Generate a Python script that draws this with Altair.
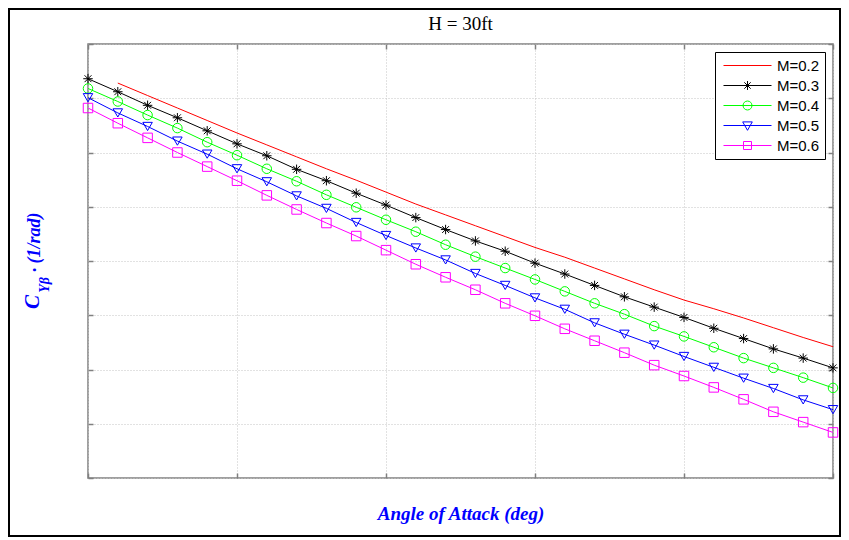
import altair as alt
import pandas as pd

# ---------------- data ----------------
series = ["M=0.2", "M=0.3", "M=0.4", "M=0.5", "M=0.6"]
colors = ["#ff0000", "#000000", "#00ff00", "#0000ff", "#ff00ff"]

angle = [0.0, 0.4, 0.8, 1.2, 1.6, 2.0, 2.4, 2.8, 3.2, 3.6, 4.0, 4.4, 4.8,
         5.2, 5.6, 6.0, 6.4, 6.8, 7.2, 7.6, 8.0, 8.4, 8.8, 9.2, 9.6, 10.0]

# M=0.2 starts at the second angle
cy_m02 = [7.28, 7.05, 6.82, 6.59, 6.36, 6.14, 5.92, 5.70, 5.49, 5.27, 5.05,
          4.85, 4.65, 4.45, 4.25, 4.07, 3.87, 3.67, 3.47, 3.28, 3.12, 2.95,
          2.77, 2.59, 2.42]
cy_m03 = [7.36, 7.12, 6.87, 6.64, 6.40, 6.16, 5.94, 5.69, 5.48, 5.25, 5.03,
          4.80, 4.58, 4.37, 4.18, 3.96, 3.76, 3.55, 3.34, 3.15, 2.96, 2.76,
          2.57, 2.38, 2.21, 2.03]
cy_m04 = [7.18, 6.94, 6.69, 6.45, 6.19, 5.95, 5.70, 5.47, 5.22, 4.99, 4.76,
          4.54, 4.30, 4.08, 3.87, 3.66, 3.44, 3.22, 3.02, 2.80, 2.61, 2.41,
          2.21, 2.03, 1.85, 1.66]
cy_m05 = [7.01, 6.73, 6.48, 6.21, 5.97, 5.70, 5.46, 5.20, 4.97, 4.71, 4.47,
          4.24, 4.02, 3.77, 3.55, 3.32, 3.11, 2.86, 2.65, 2.45, 2.24, 2.04,
          1.84, 1.65, 1.44, 1.26]
cy_m06 = [6.82, 6.54, 6.27, 6.00, 5.74, 5.48, 5.21, 4.95, 4.70, 4.46, 4.20,
          3.94, 3.70, 3.47, 3.22, 2.99, 2.75, 2.53, 2.31, 2.08, 1.88, 1.67,
          1.45, 1.22, 1.03, 0.84]

x_ticks = [0, 2, 4, 6, 8, 10]
y_ticks = [0, 1, 2, 3, 4, 5, 6, 7, 8]

rows = []
for a, v in zip(angle[1:], cy_m02):
    rows.append({"angle": a, "cy": v, "M": "M=0.2"})
for name, vals in zip(series[1:], [cy_m03, cy_m04, cy_m05, cy_m06]):
    for a, v in zip(angle, vals):
        rows.append({"angle": a, "cy": v, "M": name})
df = pd.DataFrame(rows)

# ---------------- shapes ----------------
ASTER = "M-1,0L1,0M0,-1L0,1M-0.72,-0.72L0.72,0.72M-0.72,0.72L0.72,-0.72"
LINE = "M-3,0L3,0"
L_AST = LINE + "M-0.56,0L0.56,0M0,-0.56L0,0.56M-0.4,-0.4L0.4,0.4M-0.4,0.4L0.4,-0.4"
L_CIR = LINE + "M0.56,0A0.56,0.56,0,1,1,-0.56,0A0.56,0.56,0,1,1,0.56,0Z"
L_TRI = LINE + "M-0.6,-0.45L0.6,-0.45L0,0.6Z"
L_SQU = LINE + "M-0.5,-0.5L0.5,-0.5L0.5,0.5L-0.5,0.5Z"
sym_expr = (
    f"datum.value == 'M=0.3' ? '{L_AST}' : datum.value == 'M=0.4' ? '{L_CIR}' : "
    f"datum.value == 'M=0.5' ? '{L_TRI}' : datum.value == 'M=0.6' ? '{L_SQU}' : '{LINE}'"
)

W, H = 745, 434
xs = alt.Scale(domain=[0, 10], nice=False, zero=False)
ys = alt.Scale(domain=[0, 8], nice=False, zero=False)
cs = alt.Scale(domain=series, range=colors)

TICK = dict(tickColor="#808080", tickWidth=1.5, tickSize=5, offset=-5,
            domain=False, labels=False)
GRID = dict(gridColor="#c4c4c4", gridDash=[1, 2], gridWidth=1)

axis_bottom = alt.Axis(orient="bottom", values=x_ticks, grid=True, **TICK, **GRID,
                       title="Angle of Attack (deg)", titleFont="Liberation Serif",
                       titleFontSize=19, titleFontStyle="italic", titleFontWeight="bold",
                       titleColor="#0000ff", titleBaseline="middle", titleY=40)
axis_top = alt.Axis(orient="top", values=x_ticks, grid=False, title=None, **TICK)
axis_left = alt.Axis(orient="left", values=y_ticks, grid=True, title=None, **TICK, **GRID)
axis_right = alt.Axis(orient="right", values=y_ticks, grid=False, title=None, **TICK)

legend = alt.Legend(
    orient="none", legendX=627, legendY=8, title=None,
    strokeColor="#000000", fillColor="#ffffff", padding=5, cornerRadius=0,
    symbolType={"expr": sym_expr}, symbolSize=256, symbolStrokeWidth=1,
    symbolOffset=19, labelOffset=21, rowPadding=3,
    labelFont="Liberation Sans", labelFontSize=15, labelColor="#000000",
)

lines = alt.Chart(df).mark_line(strokeWidth=1).encode(
    x=alt.X("angle:Q", scale=xs, axis=axis_bottom),
    y=alt.Y("cy:Q", scale=ys, axis=axis_left),
    color=alt.Color("M:N", scale=cs, legend=legend),
    detail="M:N",
)

points = alt.Chart(df).transform_filter("datum.M != 'M=0.2'").mark_point(
    filled=False, size=90, strokeWidth=1, opacity=1
).encode(
    x=alt.X("angle:Q", scale=xs, axis=axis_top),
    y=alt.Y("cy:Q", scale=ys, axis=axis_right),
    color=alt.Color("M:N", scale=cs, legend=None),
    shape=alt.Shape("M:N", scale=alt.Scale(
        domain=series[1:], range=[ASTER, "circle", "triangle-down", "square"]), legend=None),
)

one = pd.DataFrame({"k": [0]})
frame = alt.Chart(one).mark_rect(filled=False, stroke="#000000", strokeWidth=2).encode(
    x=alt.value(-79), x2=alt.value(752), y=alt.value(-35), y2=alt.value(492)
)

title = alt.Chart(one).mark_text(
    text="H = 30ft", font="Liberation Serif", fontSize=19, color="#000000",
    align="center", baseline="alphabetic"
).encode(x=alt.value(W / 2), y=alt.value(-14))

TXT = dict(font="Liberation Serif", fontStyle="italic", fontWeight="bold",
           color="#0000ff", angle=270, align="center", baseline="middle")
t_c = alt.Chart(one).mark_text(text="C", fontSize=21, **TXT).encode(
    x=alt.value(-55), y=alt.value(258))
t_sub = alt.Chart(one).mark_text(text="Yβ", fontSize=14, **TXT).encode(
    x=alt.value(-43), y=alt.value(241))
t_dot = alt.Chart(one).mark_text(text="·", fontSize=18, **TXT).encode(
    x=alt.value(-52), y=alt.value(226))
t_unit = alt.Chart(one).mark_text(text="(1/rad)", fontSize=18, **TXT).encode(
    x=alt.value(-53), y=alt.value(194))

chart = alt.layer(lines, points, frame, title, t_c, t_sub, t_dot, t_unit).resolve_axis(
    x="independent", y="independent"
).properties(
    width=W, height=H,
    padding={"left": 80, "top": 36, "right": 8, "bottom": 60},
    autosize=alt.AutoSizeParams(type="none"),
).configure_view(stroke="#808080", strokeWidth=1.5)

chart.save("out.html", embed_options={"renderer": "svg", "actions": False})
